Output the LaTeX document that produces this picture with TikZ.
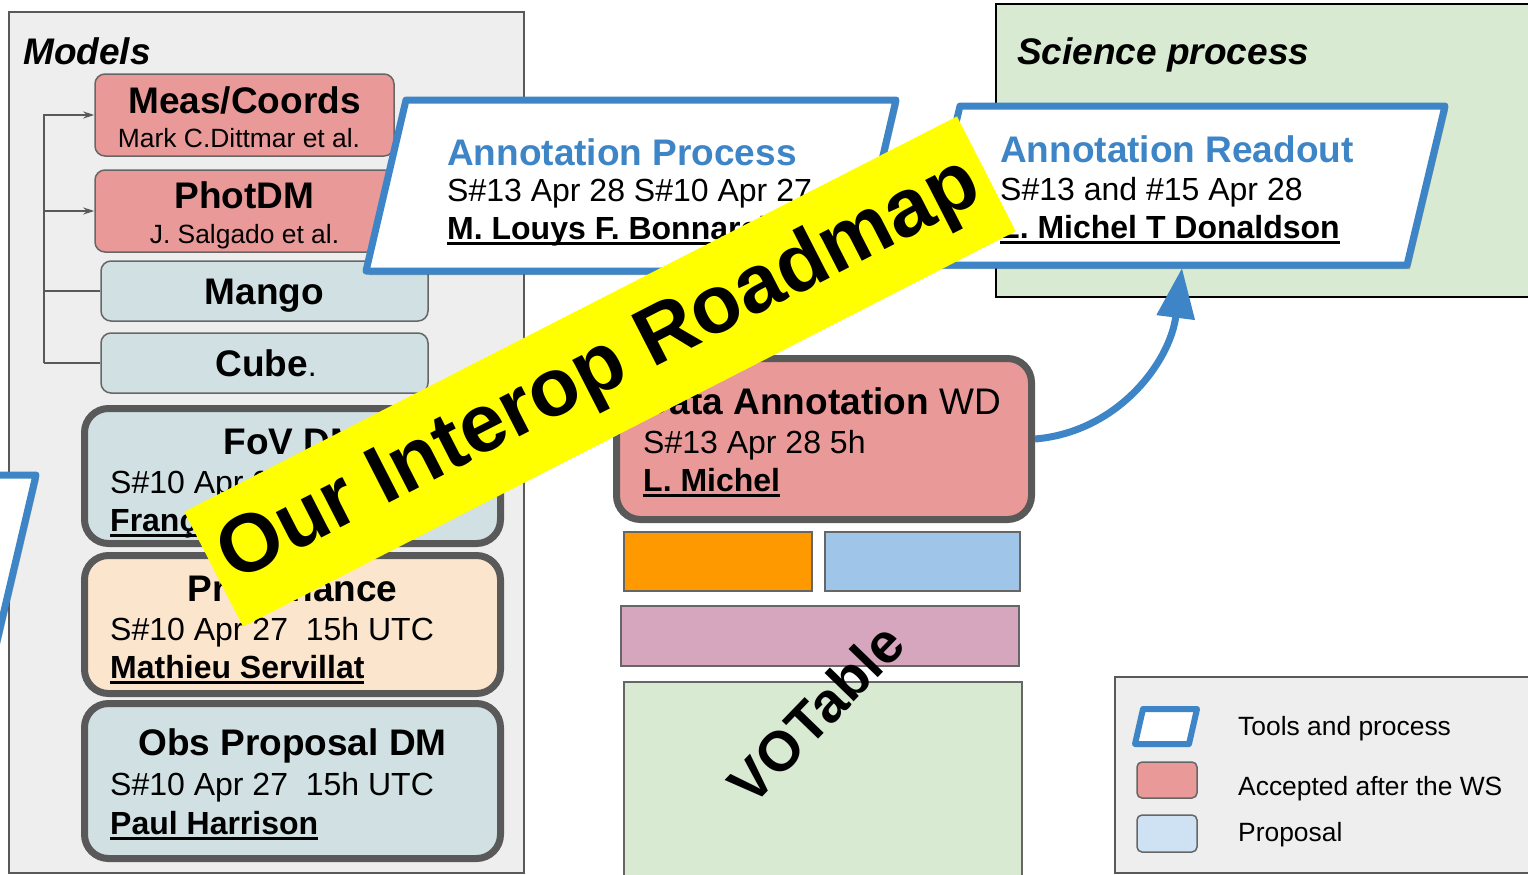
\documentclass[tikz,border=0pt]{standalone}
\usepackage{fontspec}
\setmainfont{Liberation Sans}
\usetikzlibrary{arrows.meta,shadows}
\definecolor{pinkbox}{HTML}{EA9999}
\definecolor{bluegray}{HTML}{D0E0E3}
\definecolor{peach}{HTML}{FCE5CD}
\definecolor{propblue}{HTML}{CFE2F3}
\definecolor{orangebox}{HTML}{FF9900}
\definecolor{skyblue}{HTML}{9FC5E8}
\definecolor{mauve}{HTML}{D5A6BD}
\definecolor{greenbox}{HTML}{D9EAD3}
\definecolor{panelgray}{HTML}{EEEEEE}
\definecolor{edgegray}{HTML}{666666}
\definecolor{darkedge}{HTML}{595959}
\definecolor{toolblue}{HTML}{3D85C6}
\definecolor{bannerylw}{HTML}{FFFF00}
\newcommand\fTitle{\fontsize{37}{44}\selectfont\bfseries}
\newcommand\fBody{\fontsize{32}{38}\selectfont}
\newcommand\fSmall{\fontsize{26.4}{32}\selectfont}
\newcommand\fLeg{\fontsize{26.4}{31}\selectfont}
\newsavebox\ulbox
\newcommand\myul[1]{\sbox\ulbox{#1}\rlap{\rule[-6pt]{\wd\ulbox}{3pt}}\usebox\ulbox}
\tikzset{
  panel/.style={draw=darkedge, line width=1.5pt, fill=panelgray},
  modelbox/.style={draw=edgegray, line width=1.5pt, rounded corners=10pt, inner sep=0pt},
  sessbox/.style={draw=darkedge, line width=7pt, rounded corners=24pt, inner sep=0pt},
  plainrect/.style={draw=edgegray, line width=1.5pt, inner sep=0pt},
  tool/.style={draw=toolblue, line width=7pt, fill=white, line join=round,
    drop shadow={shadow xshift=3pt, shadow yshift=-4pt, opacity=0.3, fill=black}},
  txt/.style={anchor=base west, inner sep=0pt},
  ctxt/.style={anchor=base, inner sep=0pt},
  conn/.style={draw=darkedge, line width=1.5pt},
  legbox/.style={draw=edgegray, line width=1.5pt, rounded corners=5pt, inner sep=0pt}
}
\begin{document}
\begin{tikzpicture}[x=1pt,y=-1pt]
\useasboundingbox (0,0) rectangle (1528,875);
\clip (0,0) rectangle (1528,875);
\fill[white] (0,0) rectangle (1528,875);

% panels
\draw[panel] (9,12) rectangle (524,873);
\draw[draw=black, line width=1.5pt, fill=greenbox] (996,4) rectangle (1540,297);
\draw[panel] (1115,677) rectangle (1540,873);

\node[txt, font=\fTitle\itshape] (modelsT) at (23,65) {Models};
\node[txt, font=\fTitle\itshape] (sciT) at (1017,65) {Science process};

% model boxes
\node[modelbox, fill=pinkbox, minimum width=299pt, minimum height=82pt] (meas) at (244.5,115) {};
\node[modelbox, fill=pinkbox, minimum width=299pt, minimum height=82pt] (phot) at (244.5,211) {};
\node[modelbox, fill=bluegray, minimum width=327pt, minimum height=60pt] (mango) at (264.5,291) {};
\node[modelbox, fill=bluegray, minimum width=327pt, minimum height=60pt] (cube) at (264.5,363) {};
\node[ctxt, font=\fTitle] (measT) at (244.5,113) {Meas/Coords};
\node[ctxt, font=\fSmall] (measS) at (239,147) {Mark C.Dittmar et al.};
\node[ctxt, font=\fTitle] (photT) at (244.5,208) {PhotDM};
\node[ctxt, font=\fSmall] (photS) at (244.5,243) {J. Salgado et al.};
\node[ctxt, font=\fTitle] (mangoT) at (264.5,304) {Mango};
\node[ctxt] (cubeT) at (266,376) {{\fTitle Cube}{\fBody.}};

\coordinate (trunk) at (44,363);
\draw[conn, -{Stealth[length=11pt,width=7pt]}] (trunk) |- (meas.west);
\draw[conn, -{Stealth[length=11pt,width=7pt]}] (trunk) |- (phot.west);
\draw[conn] (trunk) |- (mango.west);
\draw[conn] (trunk) -- (cube.west);

% session boxes
\node[sessbox, fill=bluegray, minimum width=416pt, minimum height=135pt] (fov) at (292.5,476) {};
\node[sessbox, fill=peach, minimum width=416pt, minimum height=138pt] (prov) at (292.5,624.5) {};
\node[sessbox, fill=bluegray, minimum width=416pt, minimum height=155pt] (obs) at (292.5,781) {};
\node[ctxt, font=\fTitle] (fovT) at (292.5,454) {FoV DM};
\node[txt, font=\fBody] (fovD) at (110,493) {S\#10 Apr 27\ \ 15h UTC};
\node[txt, font=\fBody\bfseries] (fovA) at (110,531) {\myul{François Bonnarel}};
\node[ctxt, font=\fTitle] (provT) at (292.5,601) {Provenance};
\node[txt, font=\fBody] (provD) at (110,640) {S\#10 Apr 27\ \ 15h UTC};
\node[txt, font=\fBody\bfseries] (provA) at (110,678) {\myul{Mathieu Servillat}};
\node[ctxt, font=\fTitle] (obsT) at (292.5,755) {Obs Proposal DM};
\node[txt, font=\fBody] (obsD) at (110,795) {S\#10 Apr 27\ \ 15h UTC};
\node[txt, font=\fBody\bfseries] (obsA) at (110,834) {\myul{Paul Harrison}};

% partial tool shape at left edge
\draw[tool] (-400,475) -- (36,475) -- (-4,645) -- (-440,645) -- cycle;

% data annotation and VOTable
\node[sessbox, fill=pinkbox, minimum width=415pt, minimum height=161pt] (datann) at (824,439) {};
\node[txt, font=\fTitle] (daT) at (643,414) {Data Annotation {\mdseries WD}};
\node[txt, font=\fBody] (daD) at (643,453) {S\#13 Apr 28 5h};
\node[txt, font=\fBody\bfseries] (daA) at (643,491) {\myul{L. Michel}};
\node[plainrect, fill=orangebox, minimum width=188pt, minimum height=59pt] (orng) at (718,561.5) {};
\node[plainrect, fill=skyblue, minimum width=195pt, minimum height=59pt] (sky) at (922.5,561.5) {};
\node[plainrect, fill=mauve, minimum width=398pt, minimum height=60pt] (mauv) at (820,636) {};
\node[plainrect, fill=greenbox, minimum width=398pt, minimum height=208pt] (votbox) at (823,786) {};
\node[font=\fontsize{56}{64}\selectfont\bfseries, rotate=46, inner sep=0pt] (votT) at (816,713) {VOTable};

% tools and process shapes
\draw[tool] (406,100) -- (896,100) -- (856,271) -- (366,271) -- cycle;
\node[txt, font=\fTitle, text=toolblue] (apT) at (447,165) {Annotation Process};
\node[txt, font=\fBody] (apD) at (447,201) {S\#13 Apr 28 S\#10 Apr 27};
\node[txt, font=\fBody\bfseries] (apA) at (447,239) {\myul{M. Louys F. Bonnarel}};

\draw[tool] (960,106) -- (1445,106) -- (1407,265) -- (922,265) -- cycle;
\node[txt, font=\fTitle, text=toolblue] (arT) at (1000,162) {Annotation Readout};
\node[txt, font=\fBody] (arD) at (1000,200) {S\#13 and \#15 Apr 28};
\node[txt, font=\fBody\bfseries] (arA) at (1000,238) {\myul{L. Michel T Donaldson}};
\coordinate (roB) at (1182,268);

\draw[draw=toolblue, line width=7pt, -{Triangle[length=50pt,width=37pt]}]
  (datann.east) .. controls (1118,432) and (1170,362) .. (roB);

% legend
\draw[draw=toolblue, line width=6pt, fill=white, line join=round] (1143,709) -- (1197,709) -- (1189,744) -- (1135,744) -- cycle;
\node[legbox, fill=pinkbox, minimum width=60pt, minimum height=36pt] (legAcc) at (1167,780) {};
\node[legbox, fill=propblue, minimum width=60pt, minimum height=37pt] (legProp) at (1167,833.5) {};
\node[txt, font=\fLeg] (legT1) at (1238,735) {Tools and process};
\node[txt, font=\fLeg] (legT2) at (1238,795) {Accepted after the WS};
\node[txt, font=\fLeg] (legT3) at (1238,841) {Proposal};

% banner
\node[fill=bannerylw, rotate=27.1, minimum width=868pt, minimum height=129pt, inner sep=0pt,
  font=\fontsize{82}{94}\selectfont\bfseries] (banner) at (600,371.5) {Our Interop Roadmap};
\end{tikzpicture}
\end{document}
